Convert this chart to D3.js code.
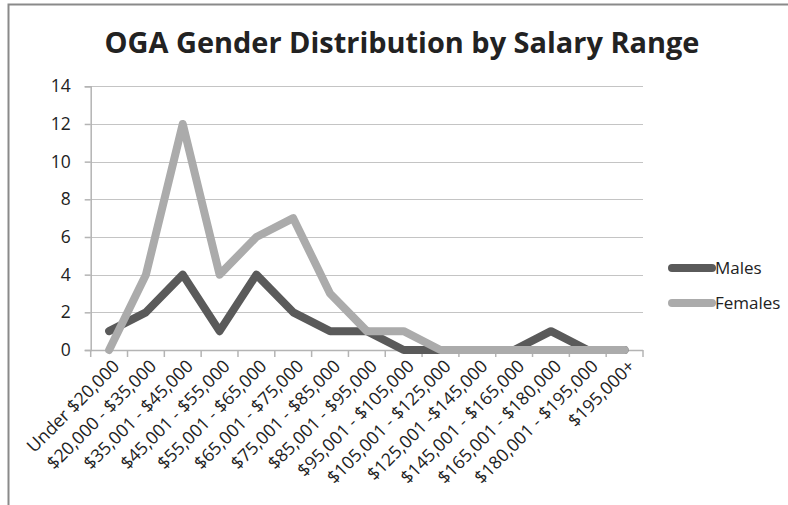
<!DOCTYPE html>
<html>
<head>
<meta charset="utf-8">
<script src="https://cdn.jsdelivr.net/npm/d3@7"></script>
<style>
  body { margin: 0; background: #fff; }
  text { font-family: "Open Sans", sans-serif; fill: #222; }
</style>
</head>
<body>
<svg id="chart" width="788" height="505"></svg>
<script>
const categories = [
    "Under $20,000", "$20,000 - $35,000", "$35,001 - $45,000", "$45,001 - $55,000",
    "$55,001 - $65,000", "$65,001 - $75,000", "$75,001 - $85,000", "$85,001 - $95,000",
    "$95,001 - $105,000", "$105,001 - $125,000", "$125,001 -$145,000", "$145,001 - $165,000",
    "$165,001 - $180,000", "$180,001 - $195,000", "$195,000+"
];
const males   = [1, 2, 4, 1, 4, 2, 1, 1, 0, 0, 0, 0, 1, 0, 0];
const females = [0, 4, 12, 4, 6, 7, 3, 1, 1, 0, 0, 0, 0, 0, 0];
const yTicks  = [0, 2, 4, 6, 8, 10, 12, 14];

const series = [
    { name: "Males", values: males, color: "#5a5a5a" },
    { name: "Females", values: females, color: "#ababab" }
];

const svg = d3.select("#chart");
const plot = { left: 90.7, right: 643, top: 86.3, bottom: 350 };

// outer frame (top and left edges visible)
svg.append("path")
    .attr("d", "M8.5,505 V4.5 H788")
    .attr("fill", "none")
    .attr("stroke", "#8a8a8a")
    .attr("stroke-width", 2);

// title, fitted to the width in the picture
const title = svg.append("text")
    .attr("x", 402)
    .attr("y", 53)
    .attr("text-anchor", "middle")
    .attr("font-weight", "bold")
    .attr("font-size", "30px")
    .attr("fill", "#111")
    .text("OGA Gender Distribution by Salary Range");
const tw = title.node().getComputedTextLength();
title.attr("font-size", (30 * 595 / tw) + "px");

const x = d3.scaleBand()
    .domain(categories)
    .range([plot.left, plot.right]);

const y = d3.scaleLinear()
    .domain([0, 14])
    .range([plot.bottom, plot.top]);

// gridlines
svg.append("g")
    .selectAll("line")
    .data(yTicks.filter(d => d > 0))
    .join("line")
    .attr("x1", plot.left)
    .attr("x2", plot.right)
    .attr("y1", d => Math.round(y(d)) + 0.5)
    .attr("y2", d => Math.round(y(d)) + 0.5)
    .attr("stroke", "#c4c4c4")
    .attr("stroke-width", 1.2);

// y axis
const yAxis = svg.append("g")
    .attr("transform", `translate(${plot.left},0)`)
    .call(d3.axisLeft(y).tickValues(yTicks).tickSize(6).tickPadding(14));
yAxis.select(".domain").attr("stroke", "#b4b4b4").attr("stroke-width", 1.5);
yAxis.selectAll(".tick line").attr("stroke", "#b4b4b4").attr("stroke-width", 1.5);
yAxis.selectAll(".tick text")
    .attr("font-size", "17.5px")
    .attr("font-family", "Open Sans, sans-serif")
    .attr("fill", "#1a1a1a");

// x axis: ticks at band edges
const xAxis = svg.append("g")
    .attr("transform", `translate(0,${plot.bottom})`);
xAxis.append("line")
    .attr("x1", plot.left).attr("x2", plot.right)
    .attr("y1", 0.5).attr("y2", 0.5)
    .attr("stroke", "#b4b4b4")
    .attr("stroke-width", 1.5);
xAxis.selectAll(".edge")
    .data(categories.map(c => x(c)).concat([x(categories[categories.length - 1]) + x.bandwidth()]))
    .join("line")
    .attr("class", "edge")
    .attr("x1", d => d).attr("x2", d => d)
    .attr("y1", 0).attr("y2", 7)
    .attr("stroke", "#b4b4b4")
    .attr("stroke-width", 1.5);
const labels = xAxis.selectAll(".lbl")
    .data(categories)
    .join("text")
    .attr("class", "lbl")
    .attr("text-anchor", "end")
    .attr("font-size", "15px")
    .attr("fill", "#1a1a1a")
    .attr("transform", d => `translate(${x(d) + x.bandwidth() / 2 + 7},${13}) rotate(-45)`)
    .attr("dy", "0.35em")
    .text(d => d);
// size the labels so "Under $20,000" runs about 122px, as in the picture
const lw = labels.node().getComputedTextLength();
labels.attr("font-size", (15 * 122 / lw) + "px");

// lines
const line = d3.line()
    .x((d, i) => x(categories[i]) + x.bandwidth() / 2)
    .y(d => y(d));

svg.append("g")
    .selectAll("path")
    .data(series)
    .join("path")
    .attr("d", d => line(d.values))
    .attr("fill", "none")
    .attr("stroke", d => d.color)
    .attr("stroke-width", 8)
    .attr("stroke-linejoin", "round")
    .attr("stroke-linecap", "round");

// legend
const legend = svg.append("g")
    .selectAll("g")
    .data(series)
    .join("g")
    .attr("transform", (d, i) => `translate(670,${268 + i * 35})`);
legend.append("line")
    .attr("x1", 2).attr("x2", 42)
    .attr("stroke", d => d.color)
    .attr("stroke-width", 8)
    .attr("stroke-linecap", "round");
legend.append("text")
    .attr("x", 45)
    .attr("dy", "0.35em")
    .attr("font-size", "17px")
    .attr("fill", "#1a1a1a")
    .text(d => d.name);
</script>
</body>
</html>
